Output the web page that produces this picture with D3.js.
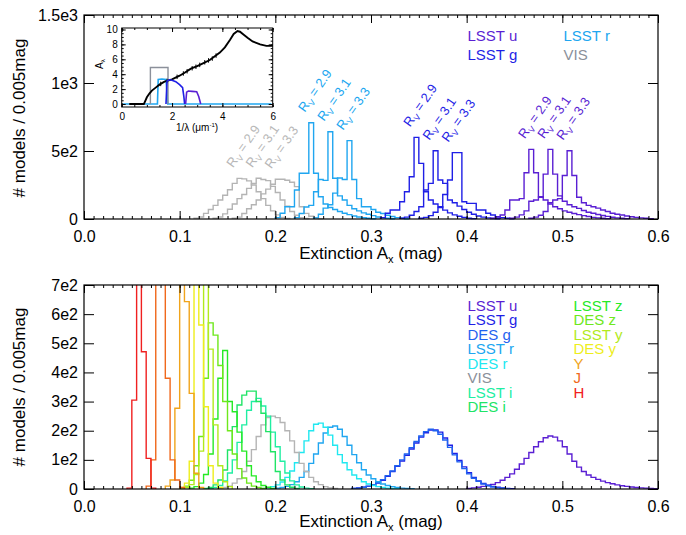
<!DOCTYPE html>
<html>
<head>
<meta charset="utf-8">
<script src="https://cdn.jsdelivr.net/npm/d3@7"></script>
<style>
  body { margin: 0; background: #fff; }
  svg text { font-family: "Liberation Sans", Arial, Helvetica, sans-serif; }
</style>
</head>
<body>
<svg id="chart" width="686" height="535"></svg>
<script>
// ---------- data ----------
const BIN = 0.005;             // histogram bin width (mag)
const xTicks = [0, 0.1, 0.2, 0.3, 0.4, 0.5, 0.6];

const topYTicks = [0, 500, 1000, 1500];
const topYLabels = ["0", "5e2", "1e3", "1.5e3"];
const botYTicks = [0, 100, 200, 300, 400, 500, 600, 700];
const botYLabels = ["0", "1e2", "2e2", "3e2", "4e2", "5e2", "6e2", "7e2"];

// top panel: three R_V values per band, each {start, counts}
const visRv29 = { start: 0.115, counts: [5, 15, 41, 70, 100, 140, 175, 215, 262, 299, 295, 280, 250, 200, 150, 100, 60, 30, 12, 4] };
const visRv31 = { start: 0.135, counts: [5, 15, 38, 72, 110, 150, 180, 225, 262, 300, 290, 282, 240, 195, 140, 95, 55, 28, 10, 4] };
const visRv33 = { start: 0.155, counts: [5, 14, 40, 75, 105, 140, 185, 220, 255, 292, 292, 285, 270, 238, 90, 41, 20, 8, 3] };

const rRv29 = { start: 0.200, counts: [10, 42, 90, 90, 213, 336, 336, 708, 336, 164, 110, 85, 70, 55, 42, 32, 22, 15, 9, 5, 2] };
const rRv31 = { start: 0.220, counts: [10, 40, 88, 100, 200, 290, 284, 642, 300, 170, 140, 100, 75, 60, 45, 35, 25, 15, 9, 5, 2] };
const rRv33 = { start: 0.240, counts: [8, 35, 80, 105, 190, 301, 290, 576, 290, 150, 90, 90, 70, 50, 40, 28, 18, 10, 5, 2] };

const gRv29 = { start: 0.310, counts: [10, 42, 66, 66, 127, 200, 311, 600, 409, 200, 140, 110, 90, 65, 45, 30, 20, 12, 6, 3] };
const gRv31 = { start: 0.330, counts: [5, 14, 28, 55, 90, 213, 262, 502, 287, 262, 140, 120, 95, 70, 50, 35, 22, 14, 8, 4, 2] };
const gRv33 = { start: 0.350, counts: [5, 12, 25, 50, 85, 180, 287, 488, 488, 127, 115, 115, 66, 66, 42, 29, 17, 10, 5, 2] };

const uRv29 = { start: 0.425, counts: [5, 15, 29, 66, 140, 140, 150, 340, 512, 340, 164, 140, 110, 90, 75, 60, 50, 40, 32, 25, 18, 12, 8, 5, 3] };
const uRv31 = { start: 0.445, counts: [5, 14, 30, 60, 130, 140, 160, 330, 512, 330, 170, 130, 105, 90, 78, 62, 50, 42, 33, 26, 19, 13, 8, 5, 3] };
const uRv33 = { start: 0.465, counts: [5, 14, 28, 55, 120, 140, 150, 320, 502, 320, 160, 120, 100, 90, 80, 66, 55, 42, 35, 29, 22, 17, 12, 8, 5, 3] };

const rvValues = ["2.9", "3.1", "3.3"];

// bottom panel: one histogram per filter
const botLsstU = { start: 0.400, counts: [2, 4, 6, 9, 12, 16, 22, 30, 40, 52, 68, 86, 105, 125, 145, 162, 176, 182, 178, 165, 145, 120, 95, 75, 60, 48, 40, 33, 27, 22, 18, 14, 11, 9, 7, 5, 4, 3, 2, 1] };
const botLsstG = { start: 0.280, counts: [2, 4, 6, 9, 13, 20, 30, 44, 60, 78, 96, 116, 137, 158, 178, 193, 202, 203, 195, 175, 150, 122, 98, 76, 56, 40, 28, 19, 13, 9, 6, 4, 2, 1] };
const botDesG  = { start: 0.280, counts: [2, 3, 6, 10, 15, 22, 32, 46, 62, 80, 100, 120, 142, 163, 182, 197, 205, 200, 188, 168, 143, 117, 93, 70, 52, 37, 26, 17, 11, 7, 4, 3, 1] };
const botLsstR = { start: 0.195, counts: [1, 3, 5, 9, 15, 25, 40, 60, 88, 120, 158, 192, 212, 216, 205, 180, 150, 118, 90, 66, 48, 35, 25, 17, 12, 8, 5, 3, 2, 1] };
const botDesR  = { start: 0.185, counts: [2, 4, 8, 14, 24, 40, 62, 90, 125, 165, 200, 222, 226, 212, 185, 150, 118, 90, 66, 48, 35, 25, 17, 12, 8, 5, 3, 2, 1] };
const botVis   = { start: 0.140, counts: [2, 5, 10, 20, 35, 60, 95, 135, 180, 220, 245, 250, 245, 228, 200, 165, 125, 88, 60, 40, 25, 15, 8, 4, 2] };
const botLsstI = { start: 0.130, counts: [2, 5, 12, 28, 55, 100, 160, 220, 270, 300, 311, 285, 250, 195, 145, 95, 55, 28, 14, 7, 3, 1] };
const botDesI  = { start: 0.125, counts: [2, 5, 14, 31, 65, 134, 214, 288, 322, 336, 336, 300, 260, 197, 128, 60, 31, 14, 6, 2] };
const botLsstZ = { start: 0.110, counts: [3, 8, 20, 50, 120, 240, 380, 475, 300, 265, 195, 130, 80, 45, 25, 12, 6, 2] };
const botDesZ  = { start: 0.100, counts: [3, 10, 30, 80, 180, 380, 570, 528, 424, 300, 200, 120, 70, 38, 20, 10, 5, 2] };
const botLsstY = { start: 0.105, counts: [5, 15, 50, 130, 1000, 480, 220, 80, 25, 8] };
const botDesY  = { start: 0.100, counts: [5, 20, 95, 950, 563, 282, 80, 20, 5] };
const botY     = { start: 0.085, counts: [10, 31, 277, 1100, 643, 328, 54, 5] };
const botJ     = { start: 0.065, counts: [10, 100, 1200, 900, 380, 100, 31, 5] };
const botH     = { start: 0.045, counts: [3, 305, 1300, 471, 105, 3] };

// inset: extinction curve A_lambda vs 1/lambda, and filter curves
const extCurve = [[0.3, 0], [0.88, 0], [0.92, 0.3], [1.0, 0.9], [1.1, 1.4], [1.2, 1.8], [1.35, 2.2], [1.5, 2.6], [1.7, 3.0],
  [2.0, 3.3], [2.3, 3.8], [2.5, 4.2], [2.75, 4.75], [3.0, 5.1], [3.25, 5.5], [3.5, 5.9], [3.7, 6.4], [3.9, 6.9], [4.1, 7.6],
  [4.3, 8.6], [4.45, 9.4], [4.6, 9.8], [4.7, 9.7], [4.85, 9.3], [5.0, 8.9], [5.2, 8.4], [5.5, 8.0], [5.75, 7.8], [6.0, 7.8]];
const extPoints = [[1.55, 2.7], [1.8, 3.1], [2.2, 3.65], [2.45, 4.1], [2.6, 4.4], [2.8, 4.8], [2.95, 5.0], [3.1, 5.25],
  [3.3, 5.6], [3.45, 5.85], [3.6, 6.1], [3.75, 6.5]];
const filtVis = [[1.14, 0], [1.14, 4.9], [1.84, 4.9], [1.84, 0]];
const filtR = [[0.05, 0], [1.42, 0], [1.45, 3.3], [1.6, 3.35], [1.76, 3.3], [1.8, 1.5], [1.83, 0], [5.95, 0]];
const filtG = [[1.76, 0], [1.8, 3.1], [1.9, 3.25], [2.0, 3.2], [2.15, 3.0], [2.3, 2.6], [2.42, 2.2], [2.47, 1.0], [2.5, 0]];
const filtU = [[2.54, 0], [2.58, 1.6], [2.65, 1.75], [2.8, 1.7], [2.98, 1.65], [3.06, 1.0], [3.14, 0]];
const insetXTicks = [0, 2, 4, 6];
const insetYTicks = [0, 2, 4, 6, 8, 10];

// ---------- colours ----------
const C = {
  lsstU: "#5a1fd3", lsstG: "#1f1fe6", desG: "#1f62f0", lsstR: "#20a6f0", desR: "#20e8f0",
  visLine: "#b4b4b4", visText: "#8b909a", lsstI: "#20eea2", desI: "#20e466",
  lsstZ: "#26ea26", desZ: "#6ee81c", lsstY: "#b2ea1c", desY: "#eeee1c",
  Y: "#f0a41c", J: "#f0681c", H: "#f02020"
};
const FONT = '"Liberation Sans", Arial, Helvetica, sans-serif';

// ---------- helpers ----------
const svg = d3.select("#chart");

function histPath(x, y, h) {
  const pts = [[x(h.start), y(0)]];
  h.counts.forEach((c, i) => {
    const a = h.start + i * BIN;
    pts.push([x(a), y(c)]);
    pts.push([x(a + BIN), y(c)]);
  });
  pts.push([x(h.start + h.counts.length * BIN), y(0)]);
  return d3.line()(pts);
}

function styleAxis(g, size) {
  g.select(".domain").remove();
  g.selectAll("line").attr("stroke", "#000").attr("stroke-width", 1);
  g.selectAll("text").attr("fill", "#000").attr("font-family", FONT).attr("font-size", size);
  g.attr("font-family", null).attr("font-size", null);
}

function drawFrame(x, y, yTicks, yLabels) {
  const [xa, xb] = x.range();
  const [ya, yb] = y.range();
  const g = svg.append("g");
  const minor = d3.range(0, 0.6001, 0.01);
  g.append("g").attr("transform", `translate(0,${ya})`)
    .call(d3.axisBottom(x).tickValues(minor).tickSize(-3).tickFormat(""))
    .call(a => styleAxis(a, 16));
  g.append("g").attr("transform", `translate(0,${ya})`)
    .call(d3.axisBottom(x).tickValues(xTicks).tickSize(-8).tickPadding(12).tickFormat(d3.format(".1f")))
    .call(a => styleAxis(a, 16));
  g.append("g").attr("transform", `translate(0,${yb})`)
    .call(d3.axisTop(x).tickValues(minor).tickSize(-3).tickFormat(""))
    .call(a => styleAxis(a, 16));
  g.append("g").attr("transform", `translate(0,${yb})`)
    .call(d3.axisTop(x).tickValues(xTicks).tickSize(-8).tickFormat(""))
    .call(a => styleAxis(a, 16));
  g.append("g").attr("transform", `translate(${xa},0)`)
    .call(d3.axisLeft(y).tickValues(yTicks).tickSize(-10).tickPadding(6).tickFormat((d, i) => yLabels[i]))
    .call(a => styleAxis(a, 16));
  g.append("g").attr("transform", `translate(${xb},0)`)
    .call(d3.axisRight(y).tickValues(yTicks).tickSize(-10).tickFormat(""))
    .call(a => styleAxis(a, 16));
  g.append("rect").attr("x", xa).attr("y", yb).attr("width", xb - xa).attr("height", ya - yb)
    .attr("fill", "none").attr("stroke", "#000").attr("stroke-width", 1.2);
}

function axisTitles(yMid, xTitleY) {
  svg.append("text").attr("transform", `translate(25,${yMid}) rotate(-90)`)
    .attr("text-anchor", "middle").attr("font-size", 17).attr("fill", "#000")
    .text("# models / 0.005mag");
  const t = svg.append("text").attr("x", 371).attr("y", xTitleY)
    .attr("text-anchor", "middle").attr("font-size", 17).attr("fill", "#000");
  t.append("tspan").text("Extinction A");
  t.append("tspan").attr("font-size", 11).attr("dy", 4).text("x");
  t.append("tspan").attr("dy", -4).text(" (mag)");
}

function legend(items, x0, y0, dy) {
  items.forEach((it, i) => {
    svg.append("text").attr("x", x0).attr("y", y0 + i * dy)
      .attr("font-size", 15).attr("fill", it[1]).text(it[0]);
  });
}

const x = d3.scaleLinear().domain([0, 0.6]).range([84, 658]);

// ---------- top panel ----------
const yTop = d3.scaleLinear().domain([0, 1500]).range([219, 15]);
const topGroups = [
  { hists: [visRv29, visRv31, visRv33], color: C.visLine, text: "#b8b8b8" },
  { hists: [rRv29, rRv31, rRv33], color: C.lsstR, text: C.lsstR },
  { hists: [gRv29, gRv31, gRv33], color: C.lsstG, text: C.lsstG },
  { hists: [uRv29, uRv31, uRv33], color: C.lsstU, text: C.lsstU }
];
const topG = svg.append("g");
topGroups.forEach(grp => {
  grp.hists.forEach((h, i) => {
    topG.append("path").attr("d", histPath(x, yTop, h))
      .attr("fill", "none").attr("stroke", grp.color).attr("stroke-width", 1.4);
    // R_V label above the peak bin
    const pk = d3.maxIndex(h.counts);
    const px = x(h.start + pk * BIN) - 4;
    const py = yTop(h.counts[pk]) - 10;
    const t = topG.append("text").attr("transform", `translate(${px},${py}) rotate(-55)`)
      .attr("font-size", 13).attr("fill", grp.text);
    t.append("tspan").text("R");
    t.append("tspan").attr("font-size", 8.5).attr("dy", 3).text("V");
    t.append("tspan").attr("dy", -3).text(" = " + rvValues[i]);
  });
});
drawFrame(x, yTop, topYTicks, topYLabels);
axisTitles(118, 259);
legend([["LSST u", C.lsstU], ["LSST g", C.lsstG]], 467.5, 40.5, 19.5);
legend([["LSST r", C.lsstR], ["VIS", C.visText]], 563.5, 40.5, 19.5);

// ---------- inset ----------
const xi = d3.scaleLinear().domain([0, 6]).range([121.7, 272.7]);
const yi = d3.scaleLinear().domain([-0.4, 10.2]).range([107, 28]);
const ins = svg.append("g");
ins.append("rect").attr("x", 121.7).attr("y", 28).attr("width", 151).attr("height", 79).attr("fill", "#fff");
const lineI = d3.line().x(d => xi(d[0])).y(d => yi(d[1]));
ins.append("path").attr("d", lineI(filtR)).attr("fill", "none").attr("stroke", C.lsstR).attr("stroke-width", 1.6);
ins.append("path").attr("d", lineI(filtVis)).attr("fill", "none").attr("stroke", "#8b909a").attr("stroke-width", 1.4);
ins.append("path").attr("d", lineI(extCurve)).attr("fill", "none").attr("stroke", "#000").attr("stroke-width", 1.9);
ins.selectAll("line.err").data(extPoints).join("line")
  .attr("x1", d => xi(d[0])).attr("x2", d => xi(d[0]))
  .attr("y1", d => yi(d[1] - 0.3)).attr("y2", d => yi(d[1] + 0.3))
  .attr("stroke", "#000").attr("stroke-width", 1);
ins.append("path").attr("d", lineI(filtG)).attr("fill", "none").attr("stroke", C.lsstG).attr("stroke-width", 1.6);
ins.append("path").attr("d", lineI(filtU)).attr("fill", "none").attr("stroke", C.lsstU).attr("stroke-width", 1.6);
const iTick = (axis, tr, size) => ins.append("g").attr("transform", tr).call(axis).call(a => styleAxis(a, size));
iTick(d3.axisBottom(xi).tickValues(d3.range(0, 6.01, 0.5)).tickSize(-2).tickFormat(""), "translate(0,107)", 10);
iTick(d3.axisBottom(xi).tickValues(insetXTicks).tickSize(-4).tickPadding(6).tickFormat(d3.format("d")), "translate(0,107)", 10);
iTick(d3.axisTop(xi).tickValues(d3.range(0, 6.01, 0.5)).tickSize(-2).tickFormat(""), "translate(0,28)", 10);
iTick(d3.axisTop(xi).tickValues(insetXTicks).tickSize(-4).tickFormat(""), "translate(0,28)", 10);
iTick(d3.axisLeft(yi).tickValues(d3.range(0, 10.01, 0.5)).tickSize(-2).tickFormat(""), "translate(121.7,0)", 10);
iTick(d3.axisLeft(yi).tickValues(insetYTicks).tickSize(-4).tickPadding(4).tickFormat(d3.format("d")), "translate(121.7,0)", 10);
iTick(d3.axisRight(yi).tickValues(d3.range(0, 10.01, 0.5)).tickSize(-2).tickFormat(""), "translate(272.7,0)", 10);
iTick(d3.axisRight(yi).tickValues(insetYTicks).tickSize(-4).tickFormat(""), "translate(272.7,0)", 10);
ins.append("rect").attr("x", 121.7).attr("y", 28).attr("width", 151).attr("height", 79)
  .attr("fill", "none").attr("stroke", "#000").attr("stroke-width", 1);
const ia = ins.append("text").attr("transform", "translate(103,69) rotate(-90)").attr("font-size", 10).attr("fill", "#000");
ia.append("tspan").text("A");
ia.append("tspan").attr("font-size", 6).attr("dy", 2).text("λ");
const ix = ins.append("text").attr("x", 197).attr("y", 131).attr("text-anchor", "middle").attr("font-size", 10).attr("fill", "#000");
ix.append("tspan").text("1/λ (μm");
ix.append("tspan").attr("font-size", 6).attr("dy", -4).text("-1");
ix.append("tspan").attr("dy", 4).text(")");

// ---------- bottom panel ----------
const yBot = d3.scaleLinear().domain([0, 700]).range([489, 285]);
svg.append("defs").append("clipPath").attr("id", "clipBot")
  .append("rect").attr("x", 84).attr("y", 285).attr("width", 574).attr("height", 204);
const botSeries = [
  [botLsstU, C.lsstU], [botLsstG, C.lsstG], [botDesG, C.desG], [botLsstR, C.lsstR], [botDesR, C.desR],
  [botVis, C.visLine], [botLsstI, C.lsstI], [botDesI, C.desI], [botLsstZ, C.lsstZ], [botDesZ, C.desZ],
  [botLsstY, C.lsstY], [botDesY, C.desY], [botY, C.Y], [botJ, C.J], [botH, C.H]
];
const botG = svg.append("g").attr("clip-path", "url(#clipBot)");
botSeries.forEach(([h, col]) => {
  botG.append("path").attr("d", histPath(x, yBot, h))
    .attr("fill", "none").attr("stroke", col).attr("stroke-width", 1.4);
});
drawFrame(x, yBot, botYTicks, botYLabels);
axisTitles(387, 527);
legend([["LSST u", C.lsstU], ["LSST g", C.lsstG], ["DES g", C.desG], ["LSST r", C.lsstR], ["DES r", C.desR],
        ["VIS", C.visText], ["LSST i", C.lsstI], ["DES i", C.desI]], 467.5, 310.5, 14.5);
legend([["LSST z", C.lsstZ], ["DES z", C.desZ], ["LSST y", C.lsstY], ["DES y", C.desY],
        ["Y", C.Y], ["J", C.J], ["H", C.H]], 573.5, 310.5, 14.5);
</script>
</body>
</html>
